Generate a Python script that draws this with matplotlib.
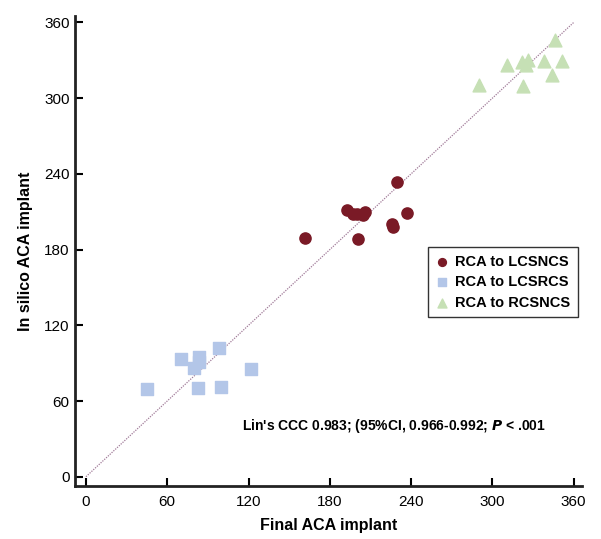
import matplotlib
matplotlib.use('Agg')
import matplotlib.pyplot as plt
import numpy as np

plt.rcParams['font.family'] = ['Liberation Sans', 'DejaVu Sans']

# RCA to LCSNCS
lcsncs_x = [161.5, 192.7, 197.0, 200.0, 204.6, 205.8, 200.9, 226.2, 226.7, 237.3, 229.4]
lcsncs_y = [189.0, 211.0, 208.5, 208.0, 207.7, 209.8, 188.7, 200.0, 198.0, 209.3, 233.6]

# RCA to LCSRCS
lcsrcs_x = [44.7, 70.0, 79.7, 83.6, 83.6, 82.9, 97.9, 99.4, 121.7]
lcsrcs_y = [69.2, 93.0, 86.3, 94.5, 91.0, 70.4, 102.0, 71.2, 85.0]

# RCA to RCSNCS
rcsncs_x = [290.0, 310.8, 322.1, 326.3, 325.0, 322.6, 338.0, 344.0, 346.0, 351.4]
rcsncs_y = [310.8, 326.4, 328.5, 330.4, 326.0, 310.0, 329.8, 318.0, 346.0, 329.8]

ticks = [0, 60, 120, 180, 240, 300, 360]

fig = plt.figure(figsize=(6.01, 5.39), dpi=100)
ax = fig.add_axes([0.125, 0.098, 0.843, 0.872])

# line of identity
ax.plot([0, 360], [0, 360], linestyle=(0, (1, 1)), color='#a07a98', lw=0.9, zorder=1)

ax.scatter(lcsncs_x, lcsncs_y, s=65, marker='o', color='#7a1a26', label='RCA to LCSNCS', zorder=3)
ax.scatter(lcsrcs_x, lcsrcs_y, s=65, marker='s', color='#b3c6e8', label='RCA to LCSRCS', zorder=3)
ax.scatter(rcsncs_x, rcsncs_y, s=85, marker='^', color='#c6e0b5', label='RCA to RCSNCS', zorder=3)

ax.set_xlim(-8, 366)
ax.set_ylim(-7.5, 365)
ax.set_xticks(ticks)
ax.set_yticks(ticks)
ax.tick_params(direction='in', length=6, width=1.5, labelsize=11)
ax.tick_params(axis='y', pad=4)
ax.tick_params(axis='x', pad=6)

for side in ['top', 'right']:
    ax.spines[side].set_visible(False)
for side in ['left', 'bottom']:
    ax.spines[side].set_linewidth(2.0)
    ax.spines[side].set_color('#222222')

ax.set_xlabel('Final ACA implant', fontsize=11.5, fontweight='bold', labelpad=7)
ax.set_ylabel('In silico ACA implant', fontsize=11.5, fontweight='bold', labelpad=8)

ax.text(115, 40, "Lin's CCC 0.983; (95%CI, 0.966-0.992; $\\mathbfit{P}$ < .001",
        fontsize=10, fontweight='bold', va='center', ha='left')

leg = ax.legend(loc='upper left', bbox_to_anchor=(0.696, 0.508), borderaxespad=0,
                frameon=True, fancybox=False,
                edgecolor='black', markerscale=0.7, handletextpad=0.4, borderpad=0.5,
                labelspacing=0.45, handlelength=1.0,
                prop={'weight': 'bold', 'size': 10.5})
leg.get_frame().set_linewidth(1.0)

fig.savefig('out.png', dpi=100)
